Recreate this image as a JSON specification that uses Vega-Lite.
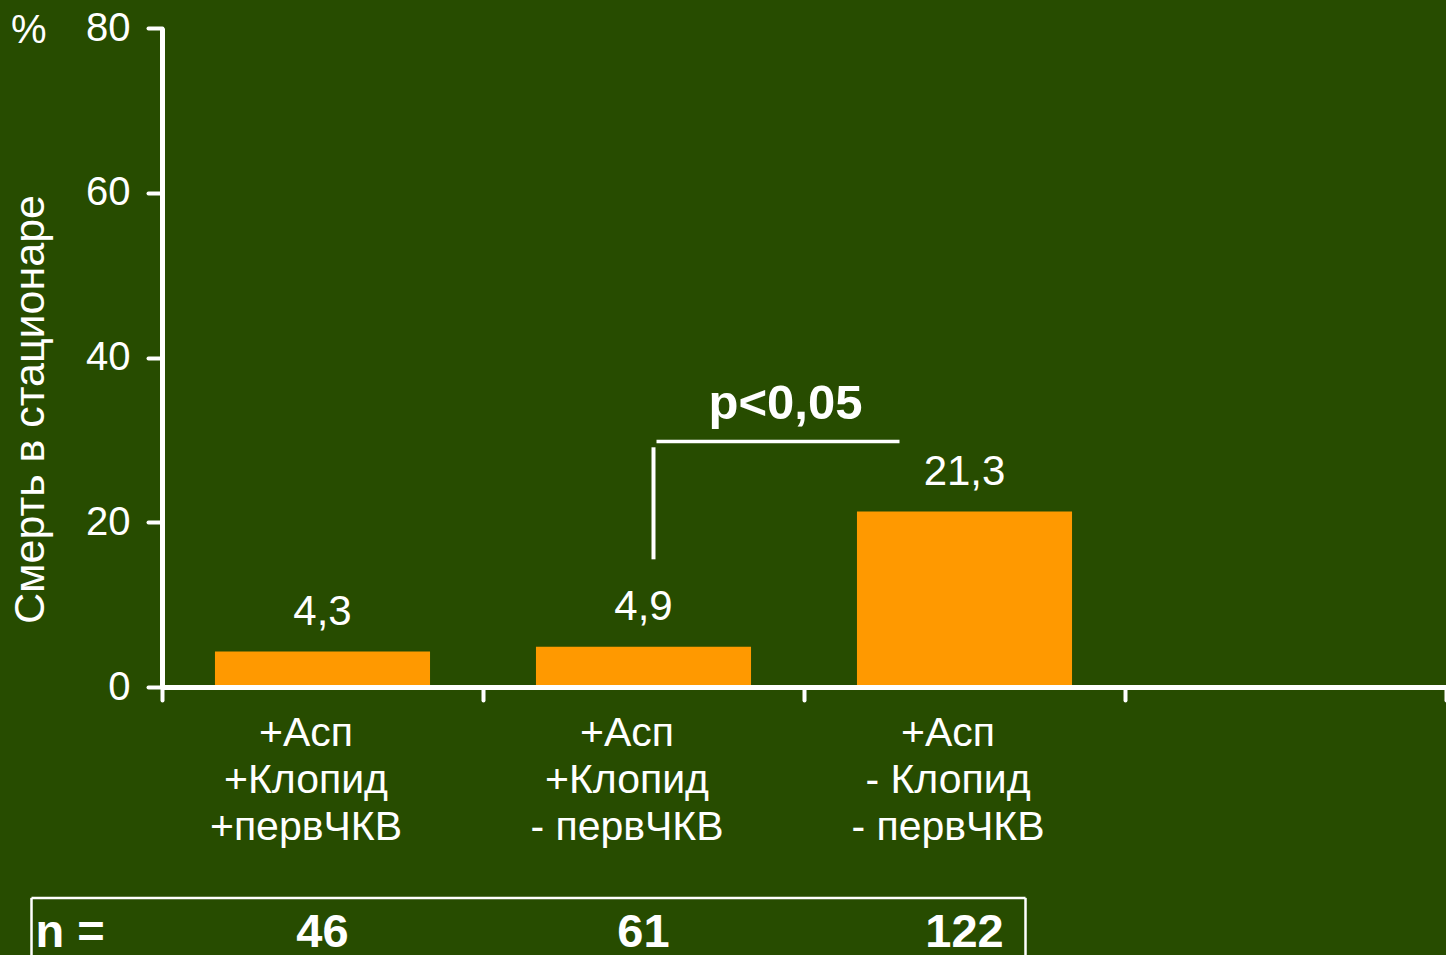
{
  "$schema": "https://vega.github.io/schema/vega-lite/v6.json",
  "width": 1284,
  "height": 659,
  "autosize": {"type": "none"},
  "padding": {"left": 162, "top": 28, "right": 0, "bottom": 268},
  "background": "#274c00",
  "title": {
    "text": "%", "anchor": "start", "frame": "bounds", "offset": 0,
    "baseline": "alphabetic", "dx": 2, "dy": 75,
    "fontSize": 40, "fontWeight": "normal", "color": "#ffffff"
  },
  "data": {
    "values": [
      {"group": "+Асп\n+Клопид\n+первЧКВ", "death": 4.3, "n": 46},
      {"group": "+Асп\n+Клопид\n- первЧКВ", "death": 4.9, "n": 61},
      {"group": "+Асп\n- Клопид\n- первЧКВ", "death": 21.3, "n": 122}
    ]
  },
  "encoding": {
    "x": {
      "field": "group", "type": "nominal", "sort": null,
      "scale": {
        "domain": ["+Асп\n+Клопид\n+первЧКВ", "+Асп\n+Клопид\n- первЧКВ", "+Асп\n- Клопид\n- первЧКВ", " "],
        "paddingInner": 0, "paddingOuter": 0
      },
      "axis": {
        "title": null, "orient": "bottom", "zindex": 1,
        "domainColor": "#ffffff", "domainWidth": 5,
        "tickColor": "#ffffff", "tickWidth": 4, "tickSize": 13, "tickCap": "round", "tickBand": "extent",
        "labelColor": "#ffffff", "labelFontSize": 41, "labelLineHeight": 47,
        "labelAngle": 0, "labelPadding": 13, "labelLimit": 0, "labelOverlap": false,
        "labelExpr": "datum.value ? split(datum.value, '\\n') : ''",
        "labelOffset": -17
      }
    }
  },
  "layer": [
    {
      "mark": {"type": "bar", "color": "#ff9900", "width": {"band": 0.67}},
      "encoding": {
        "y": {
          "field": "death", "type": "quantitative",
          "scale": {"domain": [0, 80], "nice": false},
          "axis": {
            "title": "Смерть в стационаре", "values": [0, 20, 40, 60, 80], "grid": false, "zindex": 1,
            "domainColor": "#ffffff", "domainWidth": 5,
            "tickColor": "#ffffff", "tickWidth": 4, "tickSize": 14, "tickCap": "round",
            "labelColor": "#ffffff", "labelFontSize": 40, "labelPadding": 18,
            "titleColor": "#ffffff", "titleFontSize": 43, "titleFontWeight": "normal",
            "titleAngle": 270, "titleAlign": "center", "titleBaseline": "alphabetic",
            "titleX": -119, "titleY": 381
          }
        }
      }
    },
    {
      "mark": {"type": "text", "color": "#ffffff", "fontSize": 42, "baseline": "alphabetic", "dy": -27},
      "encoding": {
        "y": {"field": "death", "type": "quantitative"},
        "text": {"field": "death", "type": "quantitative", "format": ".1f"}
      }
    },
    {
      "mark": {"type": "text", "color": "#ffffff", "fontSize": 47, "fontWeight": "bold", "baseline": "alphabetic"},
      "encoding": {
        "y": {"datum": -31.6, "type": "quantitative"},
        "text": {"field": "n", "type": "quantitative"}
      }
    },
    {
      "data": {"values": [{"label": "n ="}]},
      "mark": {"type": "text", "color": "#ffffff", "fontSize": 47, "fontWeight": "bold", "baseline": "alphabetic", "align": "left", "dx": -287},
      "encoding": {
        "x": {"datum": "+Асп\n+Клопид\n+первЧКВ"},
        "y": {"datum": -31.6, "type": "quantitative"},
        "text": {"field": "label"}
      }
    },
    {
      "data": {"values": [{"label": "p<0,05"}]},
      "mark": {"type": "text", "color": "#ffffff", "fontSize": 49, "fontWeight": "bold", "baseline": "alphabetic", "dx": 142},
      "encoding": {
        "x": {"datum": "+Асп\n+Клопид\n- первЧКВ"},
        "y": {"datum": 32.5, "type": "quantitative"},
        "text": {"field": "label"}
      }
    },
    {
      "data": {"values": [{}]},
      "mark": {"type": "rule", "color": "#ffffff", "strokeWidth": 4, "xOffset": 10},
      "encoding": {
        "x": {"datum": "+Асп\n+Клопид\n- первЧКВ"},
        "y": {"datum": 15.5, "type": "quantitative"},
        "y2": {"datum": 29.1}
      }
    },
    {
      "data": {"values": [{}]},
      "mark": {"type": "rule", "color": "#ffffff", "strokeWidth": 3.5, "xOffset": 13, "x2Offset": -65},
      "encoding": {
        "x": {"datum": "+Асп\n+Клопид\n- первЧКВ"},
        "x2": {"datum": "+Асп\n- Клопид\n- первЧКВ"},
        "y": {"datum": 29.8, "type": "quantitative"}
      }
    },
    {
      "data": {"values": [{}]},
      "mark": {"type": "rule", "color": "#ffffff", "strokeWidth": 2.5, "xOffset": -291, "x2Offset": 61},
      "encoding": {
        "x": {"datum": "+Асп\n+Клопид\n+первЧКВ"},
        "x2": {"datum": "+Асп\n- Клопид\n- первЧКВ"},
        "y": {"datum": -25.6, "type": "quantitative"}
      }
    },
    {
      "data": {"values": [{}]},
      "mark": {"type": "rule", "color": "#ffffff", "strokeWidth": 2.5, "xOffset": -291},
      "encoding": {
        "x": {"datum": "+Асп\n+Клопид\n+первЧКВ"},
        "y": {"datum": -25.6, "type": "quantitative"},
        "y2": {"datum": -45}
      }
    },
    {
      "data": {"values": [{}]},
      "mark": {"type": "rule", "color": "#ffffff", "strokeWidth": 2.5, "xOffset": 61},
      "encoding": {
        "x": {"datum": "+Асп\n- Клопид\n- первЧКВ"},
        "y": {"datum": -25.6, "type": "quantitative"},
        "y2": {"datum": -45}
      }
    }
  ],
  "config": {
    "font": "Liberation Sans",
    "view": {"stroke": null},
    "locale": {"number": {"decimal": ",", "thousands": " ", "grouping": [3], "currency": ["", ""]}}
  }
}
